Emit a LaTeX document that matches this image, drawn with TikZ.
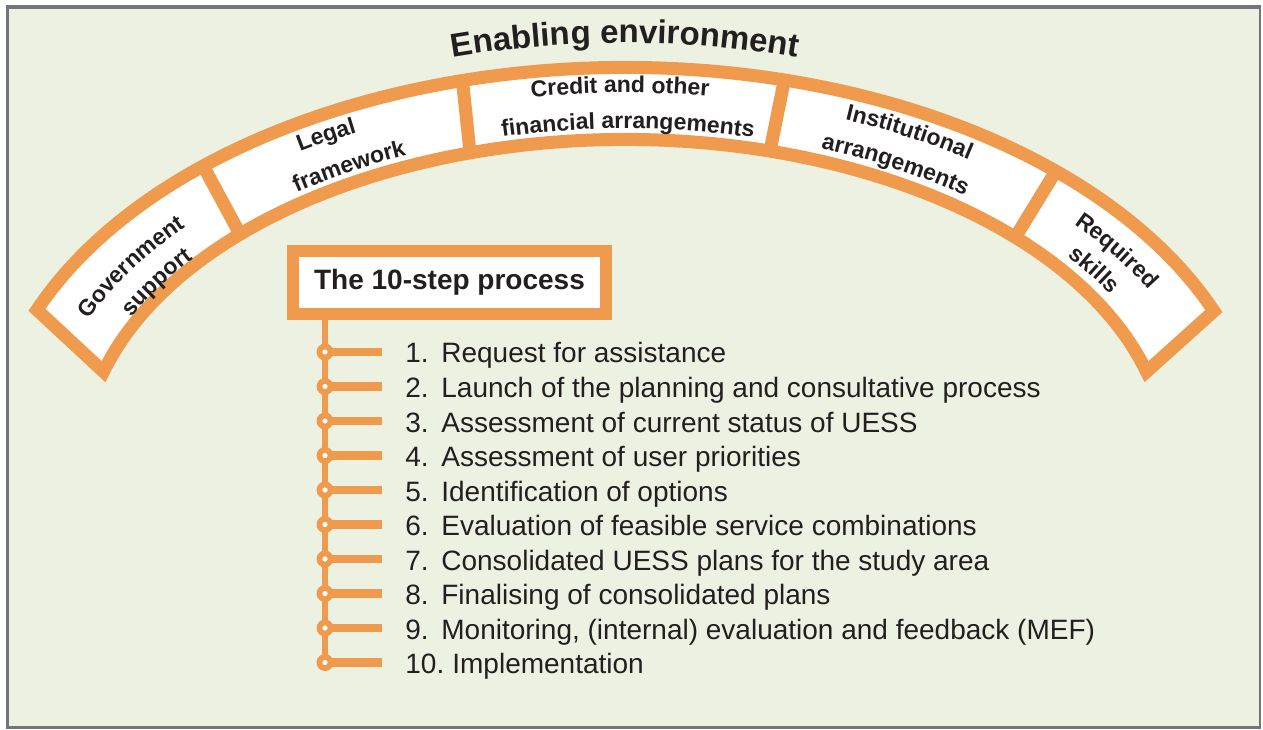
\documentclass[tikz,border=0pt]{standalone}
\usepackage{fontspec}
\setmainfont{Liberation Sans}
\usepackage{tikz}
\usetikzlibrary{calc,decorations.text}

\definecolor{archorange}{HTML}{EF9A4C}
\definecolor{paper}{HTML}{EDF1E2}
\definecolor{framegray}{HTML}{72767B}
\definecolor{ink}{HTML}{231F20}

\newcommand{\archfont}{\fontsize{11.5}{13}\selectfont\bfseries}
\newcommand{\headfont}{\fontsize{16.5}{18}\selectfont\bfseries}

% label on the arch: [half span], centre angle, height across the band (0 inner .. 1 outer), text
\newcommand{\archlabel}[4][13]{%
	\pgfmathsetmacro{\la}{\ai+94*#3}%
	\pgfmathsetmacro{\lb}{\bi+72*#3}%
	\path[decorate, decoration={text along path, text align=center, text color=ink,
		text={|\archfont|#4}}]
		(C) ++({\la*cos(#2+#1)},{\lb*sin(#2+#1)})
		arc[start angle=#2+#1, end angle=#2-#1, x radius=\la, y radius=\lb];
}

\tikzset{
	band/.style={draw=archorange, line width=6.5pt, fill=white},
	divider/.style={draw=archorange, line width=6.5pt},
	titlebox/.style={draw=archorange, line width=6pt, fill=white, outer sep=0pt,
		minimum width=156.5pt, minimum height=31.5pt, inner sep=0pt,
		font=\fontsize{14}{16}\selectfont\bfseries, text=ink},
	spine/.style={draw=archorange, line width=3.25pt},
	stub/.style={draw=archorange, line width=4.25pt},
	knot/.style={circle, fill=archorange, minimum size=8.5pt, inner sep=0pt},
	stepitem/.style={anchor=base west, inner sep=0pt,
		font=\fontsize{14}{16}\selectfont, text=ink}
}

\begin{document}
\begin{tikzpicture}[x=0.5pt, y=0.5pt]

\useasboundingbox (0,0) rectangle (1263,729);

\fill[framegray] (6,0) rectangle (1261,724);
\fill[paper] (8.5,3) rectangle (1258.5,719.5);

% rims of the arch
\def \ao {636.5}
\def \bo {392.5}
\def \ai {542.5}
\def \bi {320.5}

\coordinate (C) at (625,269);
\coordinate (ir) at ($(C)+({\ai*cos(16)},{\bi*sin(16)})$);

\draw[band] ($(C)+({\ao*cos(157.5)},{\bo*sin(157.5)})$)
	arc[start angle=157.5, end angle=22.3, x radius=\ao, y radius=\bo] -- (ir)
	arc[start angle=16, end angle=164, x radius=\ai, y radius=\bi] -- cycle;

\foreach \p/\q in {131.5/135.2, 104.8/106.6, 75.5/74.5, 47.4/44}{
	\draw[divider] ($(C)+({\ao*cos(\p)},{\bo*sin(\p)})$) -- ($(C)+({\ai*cos(\q)},{\bi*sin(\q)})$);
}

\archlabel{148}{0.45}{Government}
\archlabel{148.5}{0.07}{support}
\archlabel{120}{0.63}{Legal}
\archlabel{120}{0.15}{framework}
\archlabel[20]{90.5}{0.65}{Credit and other}
\archlabel[20]{89.7}{0.15}{financial arrangements}
\archlabel{61.5}{0.63}{Institutional}
\archlabel{60.7}{0.17}{arrangements}
\archlabel{34}{0.55}{Required}
\archlabel{33}{0.18}{skills}

\path[decorate, decoration={text along path, text align=center, text color=ink,
	text={|\headfont|Enabling environment}}]
	(C) ++({660*cos(115)},{417*sin(115)}) arc[start angle=115, end angle=65, x radius=660, y radius=417];

% the steps
\node[titlebox] (title) at (449.5,446.5) {The 10-step process};
\coordinate (s0) at ([xshift=16pt]title.south west);

\foreach \n/\txt [count=\k from 0] in {1/Request for assistance,
	2/Launch of the planning and consultative process,
	3/Assessment of current status of UESS,
	4/Assessment of user priorities,
	5/Identification of options,
	6/Evaluation of feasible service combinations,
	7/Consolidated UESS plans for the study area,
	8/Finalising of consolidated plans,
	9/{Monitoring, (internal) evaluation and feedback (MEF)},
	10/Implementation}{
	\coordinate (k\n) at ($(s0)+(0,{-38-34.5*\k})$);
	\coordinate (e\n) at ($(k\n)+(57,0)$);
	\node[stepitem] (step\n) at ($(e\n)+(23,-11)$)
		{\makebox[\ifnum\n<10 18pt\else 23.5pt\fi][l]{\n.}\txt};
	\draw[stub] (k\n) -- (e\n);
}

\draw[spine] (s0) -- (k10);

\foreach \n in {1,...,10}{
	\node[knot] at (k\n) {};
	\fill[white] (k\n) circle (1.3pt);
}

\end{tikzpicture}
\end{document}
